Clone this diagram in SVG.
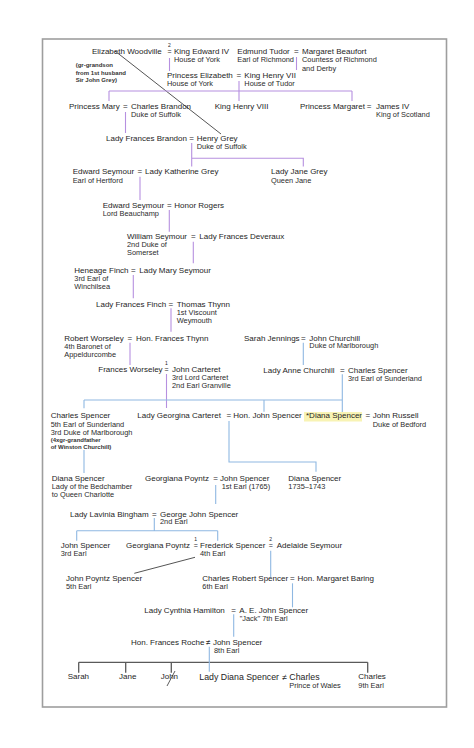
<svg xmlns="http://www.w3.org/2000/svg" width="474" height="748" viewBox="0 0 474 748">
<style>
text{font-family:"Liberation Sans",Arial,sans-serif;fill:#1e1e1e}
.nm{font-size:8px}
.sub{font-size:7.4px;fill:#2a2a2a}
.sup{font-size:5px;text-anchor:middle}
.eq{font-size:7px}
.tiny{font-size:6px;font-weight:bold;fill:#333}
.big{font-size:8.8px}
.p{stroke:#b690e0;stroke-width:1.1;fill:none}
.b{stroke:#8fb8e2;stroke-width:1.1;fill:none}
.g{stroke:#555;stroke-width:1;fill:none}
.k{stroke:#5a5a5a;stroke-width:1.3;fill:none}
</style>
<rect x="0" y="0" width="474" height="748" fill="#fff"/>
<rect id="frame" x="42.5" y="39" width="404" height="668" fill="#fff" stroke="#9e9e9e" stroke-width="1.6"/>

<g id="connectors">
<path class="g" d="M115,51 L221,134"/>
<path class="p" d="M169.5,58 V71"/>
<path class="p" d="M296.5,57 V70"/>
<path class="p" d="M239,81 V101 M109,91 H352 M109,91 V101 M352,91 V101"/>
<path class="p" d="M125.5,112 V133"/>
<path class="p" d="M191.7,143 V166.5 M191.7,158.3 H303.3 V166.5"/>
<path class="p" d="M140,176.7 V200"/>
<path class="p" d="M169.3,210 V231.7"/>
<path class="p" d="M193.3,241.7 V263.3"/>
<path class="p" d="M133.3,275 V298.3"/>
<path class="p" d="M171,308.3 V331.7"/>
<path class="p" d="M130,342.7 V365"/>
<path class="p" d="M166.5,374 V408"/>
<path class="b" d="M303.3,342.7 V365"/>
<path class="b" d="M342.3,374.3 V412 M84,400 H342.3 M84,400 V408.3 M264,400 V411.7"/>
<path class="b" d="M84,450 V473"/>
<path class="b" d="M229,421 V462 H316 V471.7"/>
<path class="b" d="M215.7,485 V504"/>
<path class="b" d="M154.3,518 V530.7 M76.7,530.7 H217.7 M76.7,530.7 V540.7 M217.7,530.7 V540.7"/>
<path class="g" d="M195,557.3 L134.3,573.3" stroke="#666"/>
<path class="b" d="M270.7,550.7 V577.3"/>
<path class="b" d="M292.5,583.3 V607.3"/>
<path class="b" d="M233.7,614.3 V636.7"/>
<path class="k" d="M78.7,662.3 H367.7 M78.7,662.3 V672.7 M125.7,662.3 V672.7 M171.3,662.3 V672.7 M367.7,662.3 V672.7"/>
<path class="b" d="M209.3,646.7 V671.7"/>
</g>

<g id="n-woodville-edward">
<text class="nm" y="54"><tspan x="92">Elizabeth Woodville</tspan><tspan class="eq" x="167.5">=</tspan><tspan x="174">King Edward IV</tspan></text>
<text class="sup" x="169.5" y="46.6">2</text>
<text class="sub" x="174" y="62.3">House of York</text>
</g>
<g id="n-tudor-beaufort">
<text class="nm" y="54"><tspan x="237.3">Edmund Tudor</tspan><tspan x="294.1">=</tspan><tspan x="302">Margaret Beaufort</tspan></text>
<text class="sub" x="237.3" y="62.3">Earl of Richmond</text>
<text class="sub" x="302" y="62.3">Countess of Richmond</text>
<text class="sub" x="302" y="70.7">and Derby</text>
</g>
<g id="n-note-grey">
<text class="tiny" x="75.7" y="67.3">(gr-grandson</text>
<text class="tiny" x="75.7" y="74.5">from 1st husband</text>
<text class="tiny" x="75.7" y="82">Sir John Grey)</text>
</g>
<g id="n-elizabeth-henry7">
<text class="nm" y="77.7"><tspan x="167">Princess Elizabeth</tspan><tspan x="236.6">=</tspan><tspan x="244.3">King Henry VII</tspan></text>
<text class="sub" x="167" y="86">House of York</text>
<text class="sub" x="244.3" y="86">House of Tudor</text>
</g>
<g id="n-mary-brandon">
<text class="nm" y="109"><tspan x="69">Princess Mary</tspan><tspan x="123.1">=</tspan><tspan x="131">Charles Brandon</tspan></text>
<text class="sub" x="131" y="117.3">Duke of Suffolk</text>
</g>
<g id="n-henry8">
<text class="nm" x="214.7" y="109">King Henry VIII</text>
</g>
<g id="n-margaret-james">
<text class="nm" y="109"><tspan x="300">Princess Margaret</tspan><tspan x="366.7">=</tspan><tspan x="376">James IV</tspan></text>
<text class="sub" x="376" y="117.3">King of Scotland</text>
</g>
<g id="n-frances-henrygrey">
<text class="nm" y="141"><tspan x="106">Lady Frances Brandon</tspan><tspan x="189.3">=</tspan><tspan x="196.7">Henry Grey</tspan></text>
<text class="sub" x="196.7" y="149.3">Duke of Suffolk</text>
</g>
<g id="n-seymour-katherine">
<text class="nm" y="174.3"><tspan x="72.7">Edward Seymour</tspan><tspan x="137.6">=</tspan><tspan x="145">Lady Katherine Grey</tspan></text>
<text class="sub" x="72.7" y="182.7">Earl of Hertford</text>
</g>
<g id="n-janegrey">
<text class="nm" x="271" y="174.3">Lady Jane Grey</text>
<text class="sub" x="271" y="182.7">Queen Jane</text>
</g>
<g id="n-seymour-rogers">
<text class="nm" y="207.7"><tspan x="102.7">Edward Seymour</tspan><tspan x="166.9">=</tspan><tspan x="174.3">Honor Rogers</tspan></text>
<text class="sub" x="102.7" y="216">Lord Beauchamp</text>
</g>
<g id="n-william-deveraux">
<text class="nm" y="239"><tspan x="127">William Seymour</tspan><tspan x="190.9">=</tspan><tspan x="199.3">Lady Frances Deveraux</tspan></text>
<text class="sub" x="127" y="247.3">2nd Duke of</text>
<text class="sub" x="127" y="255.3">Somerset</text>
</g>
<g id="n-finch-mary">
<text class="nm" y="273.3"><tspan x="74.3">Heneage Finch</tspan><tspan x="130.9">=</tspan><tspan x="139.3">Lady Mary Seymour</tspan></text>
<text class="sub" x="74.3" y="281.3">3rd Earl of</text>
<text class="sub" x="74.3" y="289.3">Winchilsea</text>
</g>
<g id="n-finch-thynn">
<text class="nm" y="306.7"><tspan x="96">Lady Frances Finch</tspan><tspan x="168.6">=</tspan><tspan x="176.7">Thomas Thynn</tspan></text>
<text class="sub" x="176.7" y="314.7">1st Viscount</text>
<text class="sub" x="176.7" y="323">Weymouth</text>
</g>
<g id="n-worseley-thynn">
<text class="nm" y="341"><tspan x="64.3">Robert Worseley</tspan><tspan x="127.6">=</tspan><tspan x="136">Hon. Frances Thynn</tspan></text>
<text class="sub" x="64.3" y="349">4th Baronet of</text>
<text class="sub" x="64.3" y="357.3">Appeldurcombe</text>
</g>
<g id="n-worseley-carteret">
<text class="nm" y="372.3"><tspan x="98.3">Frances Worseley</tspan><tspan class="eq" x="164.5">=</tspan><tspan x="172">John Carteret</tspan></text>
<text class="sup" x="166.5" y="364.9">1</text>
<text class="sub" x="172" y="380">3rd Lord Carteret</text>
<text class="sub" x="172" y="388.3">2nd Earl Granville</text>
</g>
<g id="n-jennings-churchill">
<text class="nm" y="340.7"><tspan x="244">Sarah Jennings</tspan><tspan x="300.9">=</tspan><tspan x="309.3">John Churchill</tspan></text>
<text class="sub" x="309.3" y="348.3">Duke of Marlborough</text>
</g>
<g id="n-anne-charles">
<text class="nm" y="372.7"><tspan x="263.3">Lady Anne Churchill</tspan><tspan x="339.9">=</tspan><tspan x="348">Charles Spencer</tspan></text>
<text class="sub" x="348" y="380.7">3rd Earl of Sunderland</text>
</g>
<g id="n-charles-5th">
<text class="nm" x="50.7" y="418.3">Charles Spencer</text>
<text class="sub" x="50.7" y="426.7">5th Earl of Sunderland</text>
<text class="sub" x="50.7" y="435">3rd Duke of Marlborough</text>
<text class="tiny" x="50.7" y="442.3">(4xgr-grandfather</text>
<text class="tiny" x="50.7" y="449.3">of Winston Churchill)</text>
</g>
<g id="n-georgina-john">
<text class="nm" y="418.3"><tspan x="137.3">Lady Georgina Carteret</tspan><tspan x="226.6">=</tspan><tspan x="233.3">Hon. John Spencer</tspan></text>
</g>
<g id="n-diana-russell">
<rect x="304" y="412" width="58" height="9.5" fill="#f8f3b4"/>
<text class="nm" y="418.3"><tspan x="306">*Diana Spencer</tspan><tspan x="365.6">=</tspan><tspan x="372.7">John Russell</tspan></text>
<text class="sub" x="372.7" y="426.7">Duke of Bedford</text>
</g>
<g id="n-diana-bedchamber">
<text class="nm" x="51.7" y="481">Diana Spencer</text>
<text class="sub" x="51.7" y="489.3">Lady of the Bedchamber</text>
<text class="sub" x="51.7" y="497.3">to Queen Charlotte</text>
</g>
<g id="n-poyntz-john1">
<text class="nm" y="481"><tspan x="145">Georgiana Poyntz</tspan><tspan x="213.3">=</tspan><tspan x="220">John Spencer</tspan></text>
<text class="sub" x="221.7" y="489.3">1st Earl (1765)</text>
</g>
<g id="n-diana-1735">
<text class="nm" x="288.3" y="481">Diana Spencer</text>
<text class="sub" x="288.3" y="489.3">1735–1743</text>
</g>
<g id="n-lavinia-george">
<text class="nm" y="516.7"><tspan x="70">Lady Lavinia Bingham</tspan><tspan x="151.9">=</tspan><tspan x="160">George John Spencer</tspan></text>
<text class="sub" x="160" y="524.3">2nd Earl</text>
</g>
<g id="n-john-3rd">
<text class="nm" x="60.7" y="548.3">John Spencer</text>
<text class="sub" x="60.7" y="556">3rd Earl</text>
</g>
<g id="n-frederick">
<text class="nm" y="548.3"><tspan x="126">Georgiana Poyntz</tspan><tspan class="eq" x="193.7">=</tspan><tspan x="200">Frederick Spencer</tspan><tspan class="eq" x="268.7">=</tspan><tspan x="276.7">Adelaide Seymour</tspan></text>
<text class="sup" x="195.7" y="540.9">1</text>
<text class="sup" x="270.7" y="540.9">2</text>
<text class="sub" x="200" y="556">4th Earl</text>
</g>
<g id="n-john-5th">
<text class="nm" x="66" y="581">John Poyntz Spencer</text>
<text class="sub" x="66" y="589">5th Earl</text>
</g>
<g id="n-charles-baring">
<text class="nm" y="581"><tspan x="202.3">Charles Robert Spencer</tspan><tspan x="290">=</tspan><tspan x="297.5">Hon. Margaret Baring</tspan></text>
<text class="sub" x="202.3" y="589">6th Earl</text>
</g>
<g id="n-cynthia-jack">
<text class="nm" y="612.7"><tspan x="144.3">Lady Cynthia Hamilton</tspan><tspan x="231.3">=</tspan><tspan x="239.3">A. E. John Spencer</tspan></text>
<text class="sub" x="239.7" y="621">"Jack" 7th Earl</text>
</g>
<g id="n-roche-john8">
<text class="nm" y="645"><tspan x="131">Hon. Frances Roche</tspan><tspan x="206">≠</tspan><tspan x="212.9">John Spencer</tspan></text>
<text class="sub" x="214" y="652.7">8th Earl</text>
</g>
<g id="n-sarah"><text class="nm" x="67.7" y="679.3">Sarah</text></g>
<g id="n-jane"><text class="nm" x="119" y="679.3">Jane</text></g>
<g id="n-john">
<text class="nm" x="160.7" y="679.3">John</text>
<path d="M175,671 L167,686" stroke="#333" stroke-width="0.8" fill="none"/>
</g>
<g id="n-diana-charles">
<text class="big" y="680"><tspan x="199.3">Lady Diana Spencer</tspan><tspan x="282.2">≠</tspan><tspan x="289.3">Charles</tspan></text>
<text class="sub" x="289.3" y="687.7">Prince of Wales</text>
</g>
<g id="n-charles-9th">
<text class="nm" x="358.3" y="679.3">Charles</text>
<text class="sub" x="358.3" y="687.7">9th Earl</text>
</g>
</svg>
